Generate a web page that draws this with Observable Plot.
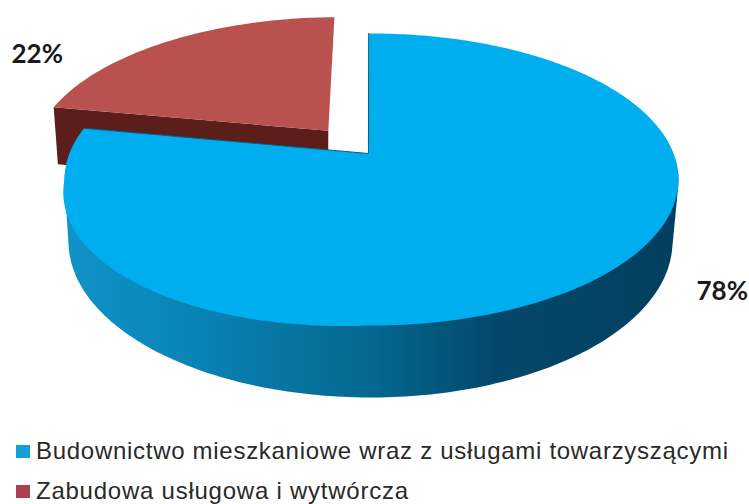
<!DOCTYPE html>
<html lang="pl">
<head>
<meta charset="utf-8">
<script src="https://cdn.jsdelivr.net/npm/d3@7"></script>
<script src="https://cdn.jsdelivr.net/npm/@observablehq/plot@0.6"></script>
<style>
  html, body { margin: 0; padding: 0; background: #fff; overflow: hidden; width: 749px; height: 504px; }
  svg { display: block; }
  .legend { font-family: "Liberation Sans", Arial, sans-serif; font-size: 24px; color: #2a2a2a; }
  .row { position: relative; height: 40px; line-height: 40px; white-space: nowrap; }
  .swatch { position: absolute; left: 16px; top: 14px; width: 14px; height: 13px; }
  .label { position: absolute; left: 36px; top: 0; display: inline-block; }
</style>
</head>
<body>
<div id="chart"></div>
<div id="legend" class="legend"></div>
<script>
// Shares of the two building categories, clockwise from twelve o'clock.
const categories = [
  "Budownictwo mieszkaniowe wraz z usługami towarzyszącymi",
  "Zabudowa usługowa i wytwórcza"
];
const shares = [78, 22];
const lidColors = ["#00aeef", "#b9524f"];
const swatchColors = ["#12a0dc", "#ab4150"];
const legendWidths = [692, 372];

// Perspective of the disc: where the pie's centre lands inside the unit ellipse.
const vanish = [-0.01, 0.178];
const k = Math.hypot(vanish[0], vanish[1]);
const sx = vanish[0] / k, sy = vanish[1] / k;
const squeeze = Math.sqrt(1 - k * k);
const explode = [0, 0.215];

function project(u, v) {
  const along = u * sx + v * sy;
  const perp = u * sy - v * sx;
  const w = 1 + k * along;
  const a = (along + k) / w;
  const p = perp * squeeze / w;
  return [a * sx + p * sy, a * sy - p * sx];
}

// The lid swells slightly towards the viewer on its lower left side.
const swell = ([X, Y]) => {
  const f = X < 0 && Y < 0 ? 1 + 0.09 * X * Y : 1;
  return [X * f, Y * f];
};

// Underside of the disc, expressed in the units of the lid's ellipse.
const lid = { cx: 371, cy: 179, rx: 307, ry: 146 };
const base = { cx: 370, cy: 241, rx: 302, ry: 156 };
const toBase = ([X, Y]) => [
  (base.cx - lid.cx + base.rx * X) / lid.rx,
  (lid.cy - base.cy + base.ry * Y) / lid.ry
];

// Build each slice's outline from its share.
let running = 0;
const slices = shares.map((share, i) => {
  const start = running / 100 * 2 * Math.PI;
  running += share;
  const end = running / 100 * 2 * Math.PI;
  const mid = (start + end) / 2;
  const ox = Math.sin(mid) * explode[i], oy = Math.cos(mid) * explode[i];
  const steps = Math.ceil(share * 3.6);
  const arc = d3.range(steps + 1).map(j => {
    const t = start + (end - start) * j / steps;
    return project(Math.sin(t) + ox, Math.cos(t) + oy);
  });
  return { start, end, arc, apex: project(ox, oy) };
});

const outline = pts => pts.map(([x, y]) => ({ x, y }));
const [blue, red] = slices;

const lidBlue = outline([blue.apex, ...blue.arc.map(swell)]);
const lidRed = outline([red.apex, ...red.arc]);
const redCorner = red.arc[0];
const wallRed = outline([redCorner, red.apex, toBase(red.apex), toBase(redCorner)]);

// The visible rim runs along the lower half of the disc.
const lowerHalf = blue.arc.filter(p => p[1] <= 0.05);
const wallBlue = outline(d3.polygonHull([...lowerHalf, ...lowerHalf.map(toBase)]));
const edgeBlue = outline([blue.arc[blue.arc.length - 1], blue.apex, blue.arc[0]]);

const rimGradient = () => {
  const defs = d3.create("svg:defs");
  const grad = defs.append("linearGradient").attr("id", "rim");
  [[0, "#1193c9"], [0.2, "#0a84b7"], [0.5, "#04688f"], [0.7, "#03486b"], [1, "#033f5e"]]
    .forEach(([o, c]) => grad.append("stop").attr("offset", o).attr("stop-color", c));
  return defs.node();
};

const shape = (pts, fill) =>
  Plot.line(pts, { x: "x", y: "y", fill, stroke: "none", curve: "linear-closed" });

const chart = Plot.plot({
  width: 749,
  height: 431,
  margin: 0,
  x: { axis: null, domain: [-1, 1], range: [lid.cx - lid.rx, lid.cx + lid.rx] },
  y: { axis: null, domain: [-1, 1], range: [lid.cy + lid.ry, lid.cy - lid.ry] },
  style: { background: "#fff" },
  marks: [
    rimGradient,
    shape(wallRed, "#5c1e1b"),
    shape(lidRed, lidColors[1]),
    shape(wallBlue, "url(#rim)"),
    shape(lidBlue, lidColors[0]),
    Plot.line(edgeBlue, { x: "x", y: "y", stroke: "#0a5f86", strokeWidth: 1 }),
    Plot.text([`${shares[1]}%`], {
      text: d => d, frameAnchor: "top-left", dx: 11, dy: 44,
      textAnchor: "start", fontFamily: "Lato", fontWeight: 700, fontSize: 26, fill: "#1a1a1a"
    }),
    Plot.text([`${shares[0]}%`], {
      text: d => d, frameAnchor: "top-left", dx: 696, dy: 281,
      textAnchor: "start", fontFamily: "Lato", fontWeight: 700, fontSize: 26, fill: "#1a1a1a"
    })
  ]
});
document.getElementById("chart").append(chart);

// Legend rows under the chart, stretched to their full printed width.
const legend = d3.select("#legend");
categories.forEach((name, i) => {
  const row = legend.append("div").attr("class", "row");
  row.append("span").attr("class", "swatch").style("background", swatchColors[i]);
  const label = row.append("span").attr("class", "label").text(name);
  const natural = label.node().getBoundingClientRect().width;
  label.style("letter-spacing", `${(legendWidths[i] - natural) / (name.length - 1)}px`);
});
</script>
</body>
</html>
